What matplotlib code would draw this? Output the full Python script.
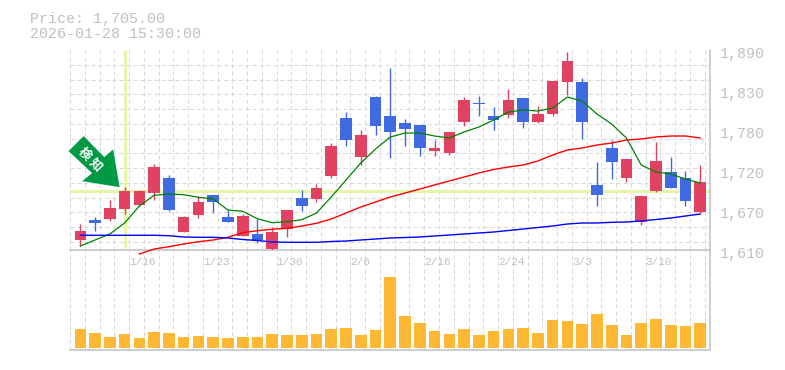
import numpy as np
import matplotlib
matplotlib.use('Agg')
import matplotlib.pyplot as plt
from matplotlib.patches import Polygon
from matplotlib.transforms import Affine2D, ScaledTranslation

opens = [1624, 1652, 1653, 1667, 1673, 1690, 1711, 1635, 1659, 1687, 1656, 1630, 1632, 1611, 1639, 1683, 1681, 1714, 1795, 1740, 1824, 1798,
         1788, 1785, 1749, 1746, 1789, 1816, 1798, 1799, 1823, 1789, 1800, 1845, 1845, 1701, 1753, 1711, 1649, 1693, 1719, 1711, 1663]
highs = [1647, 1656, 1680, 1698, 1694, 1730, 1715, 1658, 1686, 1687, 1666, 1660, 1653, 1642, 1666, 1694, 1702, 1760, 1803, 1778, 1826, 1865,
         1793, 1785, 1764, 1775, 1824, 1826, 1810, 1835, 1823, 1812, 1847, 1887, 1851, 1733, 1764, 1737, 1687, 1761, 1740, 1721, 1729]
lows = [1615, 1637, 1651, 1660, 1672, 1680, 1665, 1635, 1655, 1662, 1649, 1630, 1620, 1609, 1628, 1665, 1677, 1711, 1756, 1729, 1771, 1739,
        1756, 1742, 1742, 1743, 1784, 1798, 1778, 1795, 1781, 1788, 1798, 1827, 1765, 1672, 1709, 1705, 1645, 1691, 1697, 1672, 1662]
closes = [1636, 1648, 1669, 1693, 1693, 1726, 1666, 1656, 1677, 1677, 1649, 1658, 1624, 1635, 1666, 1672, 1697, 1756, 1764, 1771, 1784, 1775,
          1779, 1753, 1753, 1775, 1820, 1814, 1792, 1820, 1789, 1800, 1847, 1875, 1789, 1687, 1733, 1737, 1686, 1735, 1697, 1679, 1705]

ma_short = [1615.6, 1624, 1632.4, 1647.8, 1671.6, 1686.6, 1688.4, 1687.4, 1683.8, 1681.4, 1666, 1664.2, 1653.8, 1648.2, 1649.6, 1652.4,
            1661.8, 1684.2, 1708, 1731.8, 1751.4, 1768.2, 1773.8, 1773.8, 1769.6, 1766.8, 1775.2, 1782.2, 1792, 1803.2, 1806, 1804.6,
            1808.8, 1824.2, 1818.6, 1800.4, 1786.4, 1766.8, 1729, 1719.2, 1716.4, 1709.4, 1703.8]
ma_mid = [np.nan, np.nan, np.nan, np.nan, 1604.4, 1611.4, 1614.6, 1618.4, 1621.6, 1624, 1627.8, 1634.2, 1637, 1639, 1640.4, 1643.6, 1647.4,
          1653.4, 1661.8, 1670.2, 1677.2, 1684.2, 1689.8, 1695.4, 1701, 1706.6, 1712.2, 1717.8, 1722.7, 1726.2, 1729, 1734.6, 1743, 1750,
          1752.8, 1757, 1759.8, 1764, 1765.4, 1768.2, 1769.6, 1769.6, 1766.8]
ma_long = [1630.6, 1630.6, 1630.6, 1630.6, 1630.6, 1630.6, 1630, 1628.2, 1627.8, 1627.8, 1626.8, 1624.7, 1623.3, 1621.2, 1620.8, 1620.8, 1620.8,
           1621.9, 1622.6, 1624, 1625.4, 1626.8, 1627.5, 1628.2, 1629.6, 1631, 1632.4, 1633.8, 1635.2, 1637.3, 1639.4, 1641.5, 1643.6, 1646.4,
           1647.8, 1647.8, 1648.8, 1649.2, 1650.6, 1652.7, 1654.8, 1657.6, 1660.4]

volumes = [19, 15, 11, 14, 10, 16, 15, 11, 12, 11, 10, 11, 11, 14, 13, 13, 14, 19, 20, 13, 18, 71,
           32, 25, 17, 14, 19, 13, 17, 19, 20, 15, 28, 27, 24, 34, 23, 13, 25, 29, 23, 22, 25]

price_ticks = [1890, 1834, 1778, 1722, 1666, 1610]
price_labels = ['1,890', '1,830', '1,780', '1,720', '1,670', '1,610']
date_idx = [4, 9, 14, 19, 24, 29, 34, 39]
date_labels = ['1/16', '1/23', '1/30', '2/6', '2/16', '2/24', '3/3', '3/10']
signal_idx = 3
cross_price = 1692
stamp = '2026-01-28 15:30:00'

W, H = 785.0, 370.0
RED = '#e24262'
BLUE = '#4169e1'
GREY = '#c0c0c0'
GRID = '#d8d8d8'
CROSS = '#e4f7a8'
MONO = 'Liberation Mono'
BAR_W = 0.79

fig = plt.figure(figsize=(7.85, 3.7), dpi=100)
ax_vol = fig.add_axes([70 / W, 1 - 350 / H, 640 / W, 100 / H])
ax = fig.add_axes([70 / W, 1 - 250 / H, 640 / W, 200 / H])
ax_vol.patch.set_visible(False)
ax.patch.set_visible(False)

x = np.arange(len(closes))
x0 = -0.7
x1 = 42.66
grid_x = np.arange(x0, x1, 1.0)
grid_y = np.arange(1890, 1610, -20.65)

for a in [ax, ax_vol]:
    a.set_xlim(x0, x1)
    a.set_axisbelow(True)
    a.spines['top'].set_visible(False)
    a.spines['left'].set_visible(False)
    for s in ['right', 'bottom']:
        a.spines[s].set_color(GREY)
        a.spines[s].set_linewidth(1.1)
    a.set_xticks(grid_x)
    a.tick_params(length=0)
    a.grid(True, axis='x', color=GRID, lw=0.72, ls=(0, (4, 3)))
    a.set_xticklabels([])

# price panel
ax.set_ylim(1610, 1890)
ax.yaxis.tick_right()
ax.set_yticks(price_ticks)
ax.set_yticklabels(price_labels, fontfamily=MONO, fontsize=10.8, color=GREY)
ax.tick_params(axis='y', pad=7)
ax.set_yticks(grid_y, minor=True)
ax.tick_params(axis='y', which='minor', length=0)
ax.grid(True, axis='y', which='minor', color=GRID, lw=0.72, ls=(0, (4, 3)))
shift = ScaledTranslation(0, -2.5 / 100, fig.dpi_scale_trans)
for lbl in ax.get_yticklabels():
    lbl.set_transform(lbl.get_transform() + shift)

labels = [''] * len(grid_x)
for i, d in zip(date_idx, date_labels):
    labels[i] = d
ax.set_xticklabels(labels, fontfamily=MONO, fontsize=8, color=GREY, ha='left')
ax.tick_params(axis='x', pad=5)

ax.axhline(cross_price, color=CROSS, lw=2.2, zorder=1)
ax.vlines(signal_idx, 1613, 1890, color=CROSS, lw=2.2, zorder=1)

for i in x:
    col = RED if closes[i] >= opens[i] else BLUE
    ax.vlines(i, lows[i], highs[i], color=col, lw=1.0, zorder=3)
    ax.bar(i, max(abs(closes[i] - opens[i]), 1.4), bottom=min(opens[i], closes[i]), width=BAR_W, color=col, zorder=3)

ax.plot(x, ma_short, color='#008000', lw=0.9, zorder=4)
ax.plot(x, ma_mid, color='#ff0000', lw=1.0, zorder=4, clip_on=False)
ax.plot(x, ma_long, color='#0000ff', lw=1.0, zorder=4)

# signal arrow, drawn in pixels relative to the high of the signal candle
tip = ax.transData.transform((signal_idx, highs[signal_idx]))
arrow_trans = Affine2D().translate(tip[0] - 5, tip[1])
arrow_shape = [(-36, 51), (-51, 36), (-27.5, 14), (-37.5, 6), (0, 0), (-6.5, 37.7), (-15.3, 30)]
ax.add_patch(Polygon(arrow_shape, closed=True, facecolor='#009944', edgecolor='none', transform=arrow_trans, zorder=6, clip_on=False))
ax.text(-29.3, 27.7, '検 知', transform=arrow_trans, color='white', fontfamily='Noto Sans CJK JP', fontweight='bold',
        fontsize=9, rotation=-45, rotation_mode='anchor', ha='center', va='center', zorder=7)

# volume panel
ax_vol.set_ylim(-2, 98)
ax_vol.set_yticks([])
ax_vol.bar(x, volumes, width=BAR_W, color='#ffb833', zorder=3)

fig.text(30 / W, 1 - 23 / H, 'Price: {:,.2f}'.format(closes[-1]), fontfamily=MONO, fontsize=10.8, color=GREY, va='baseline')
fig.text(30 / W, 1 - 37.5 / H, stamp, fontfamily=MONO, fontsize=10.8, color=GREY, va='baseline')

fig.savefig('out.png', dpi=100)
